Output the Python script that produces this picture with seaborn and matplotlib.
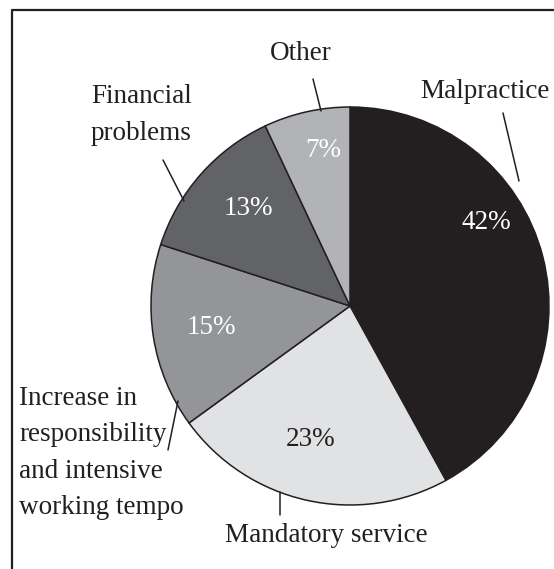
import matplotlib
matplotlib.use("Agg")
import matplotlib.pyplot as plt
from matplotlib.lines import Line2D
import seaborn as sns

# Reasons for leaving, share of respondents (%)
categories = ["Malpractice", "Mandatory service",
              "Increase in\nresponsibility\nand intensive\nworking tempo",
              "Financial\nproblems", "Other"]
shares = [42, 23, 15, 13, 7]
slice_colors = ["#231f20", "#e1e2e3", "#939598", "#626366", "#b1b3b6"]
pct_colors = ["white", "#231f20", "white", "white", "white"]

sns.set_theme(style="white")
plt.rcParams["font.family"] = ["Liberation Serif", "DejaVu Serif"]

W, H = 554, 569
fig = plt.figure(figsize=(W / 100, H / 100), dpi=100)
ax = fig.add_axes([0, 0, 1, 1])


def py(y):
    """Convert a top-down pixel row into the axes' bottom-up coordinate."""
    return H - y


cx, cy, r = 350, py(306), 199
ax.pie(shares, colors=slice_colors, startangle=90, counterclock=False,
       center=(cx, cy), radius=r, frame=True,
       wedgeprops=dict(edgecolor="#231f20", linewidth=1.1))
ax.set_xlim(0, W)
ax.set_ylim(0, H)
ax.set_aspect("equal")
ax.axis("off")

FS = 19.5
LS = 1.58

# percentage labels inside the slices
pct_pos = [(486, 222), (311, 439), (211, 328), (248, 208), (323, 150)]
for v, (x, y), c in zip(shares, pct_pos, pct_colors):
    ax.text(x, py(y), f"{v}%", color=c, fontsize=FS, ha="center", va="center")

# category labels and leader lines
ax.text(485, py(91), categories[0], fontsize=FS, ha="center", va="center",
        color="#231f20")
ax.text(326, py(535), categories[1], fontsize=FS, ha="center", va="center",
        color="#231f20")
ax.text(19, py(453), categories[2], fontsize=FS, ha="left", va="center",
        color="#231f20", linespacing=LS)
ax.text(91, py(115), categories[3], fontsize=FS, ha="left", va="center",
        color="#231f20", linespacing=LS)
ax.text(301, py(53), categories[4], fontsize=FS, ha="center", va="center",
        color="#231f20")

leaders = [((503, 113), (519, 181)),
           ((279.5, 492), (279.5, 515)),
           ((178, 401), (168, 450)),
           ((163, 160), (184, 201)),
           ((313, 79), (321, 111))]
for (x0, y0), (x1, y1) in leaders:
    ax.plot([x0, x1], [py(y0), py(y1)], color="#231f20", linewidth=1.1)

# frame around the figure (left and top edges)
fig.add_artist(Line2D([12 / W, 12 / W, 1.01], [-0.01, 1 - 10 / H, 1 - 10 / H],
                      transform=fig.transFigure, color="#231f20", linewidth=1.6))

fig.savefig("out.png", dpi=100, facecolor="white")
